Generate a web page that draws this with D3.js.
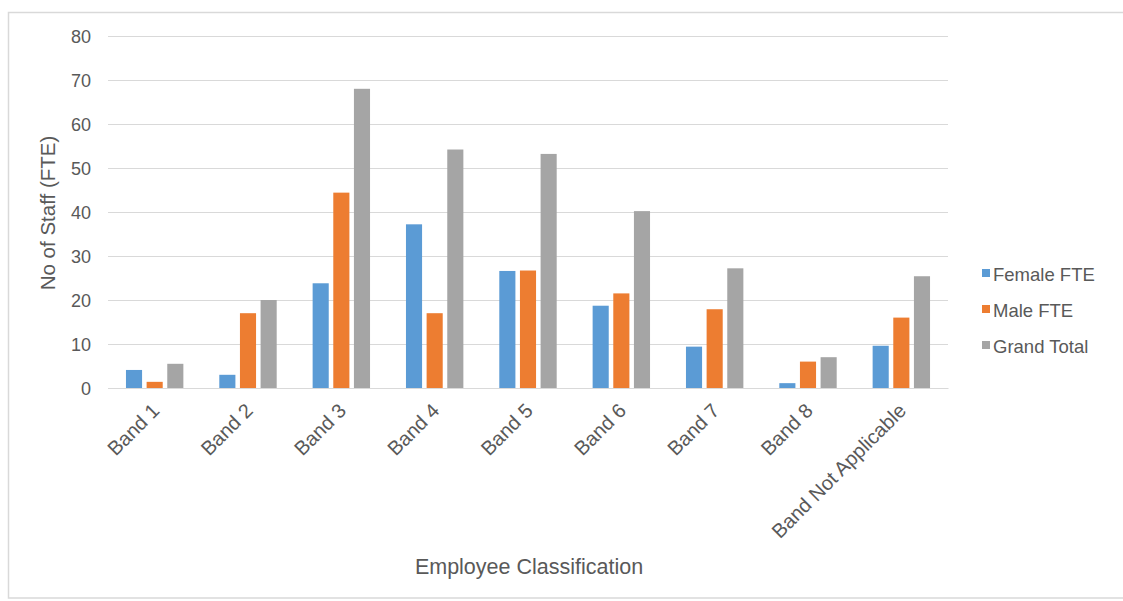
<!DOCTYPE html>
<html>
<head>
<meta charset="utf-8">
<script src="https://cdn.jsdelivr.net/npm/d3@7"></script>
<style>
  html, body { margin: 0; padding: 0; background: #fff; }
  svg { display: block; font-family: "Liberation Sans", Arial, sans-serif; }
</style>
</head>
<body>
<svg id="chart" width="1123" height="601"></svg>
<script>
// Staff numbers (FTE) by band
const categories = ["Band 1", "Band 2", "Band 3", "Band 4", "Band 5", "Band 6", "Band 7", "Band 8", "Band Not Applicable"];
const seriesNames = ["Female FTE", "Male FTE", "Grand Total"];
const femaleFTE = [4.1, 3.0, 23.8, 37.2, 26.6, 18.7, 9.4, 1.1, 9.6];
const maleFTE   = [1.4, 17.0, 44.4, 17.0, 26.7, 21.5, 17.9, 6.0, 16.0];
const grandTotal = [5.5, 20.0, 68.0, 54.2, 53.2, 40.2, 27.2, 7.0, 25.4];
const yTicks = [0, 10, 20, 30, 40, 50, 60, 70, 80];

const colors = ["#5B9BD5", "#ED7D31", "#A5A5A5"];
const seriesValues = [femaleFTE, maleFTE, grandTotal];
const textColor = "#595959";

const svg = d3.select("#chart");

// outer chart frame
svg.append("rect")
  .attr("x", 8.5).attr("y", 12.5)
  .attr("width", 1125).attr("height", 585.5)
  .attr("fill", "none").attr("stroke", "#D9D9D9").attr("stroke-width", 1.5);

const plot = { left: 108, right: 948, top: 36, bottom: 388 };

const x0 = d3.scaleBand()
  .domain(categories)
  .range([plot.left, plot.right])
  .paddingInner(0.385)
  .paddingOuter(0.1925);

const x1 = d3.scaleBand()
  .domain(seriesNames)
  .range([0, x0.bandwidth()])
  .paddingInner(0.22);

const y = d3.scaleLinear().domain([0, 80]).range([plot.bottom, plot.top]);

// horizontal gridlines
const yAxis = d3.axisLeft(y)
  .tickValues(yTicks)
  .tickSize(-(plot.right - plot.left))
  .tickPadding(17)
  .tickFormat(d3.format("d"));

const gy = svg.append("g")
  .attr("transform", `translate(${plot.left},0)`)
  .call(yAxis);
gy.select(".domain").remove();
gy.selectAll(".tick line").attr("stroke", "#D9D9D9").attr("stroke-width", 1.2);
gy.selectAll(".tick text")
  .attr("fill", textColor)
  .attr("font-size", 18)
  .attr("dy", "0.35em");

// bars
const groups = svg.append("g").selectAll("g")
  .data(categories)
  .join("g")
  .attr("transform", d => `translate(${x0(d)},0)`);

groups.selectAll("rect")
  .data((d, i) => seriesNames.map((s, k) => ({ s, k, v: seriesValues[k][i] })))
  .join("rect")
  .attr("x", d => x1(d.s))
  .attr("y", d => y(d.v))
  .attr("width", x1.bandwidth())
  .attr("height", d => y(0) - y(d.v))
  .attr("fill", d => colors[d.k]);

// category axis
const xAxis = d3.axisBottom(x0).tickSize(0).tickPadding(0);
const gx = svg.append("g")
  .attr("transform", `translate(0,${plot.bottom})`)
  .call(xAxis);
gx.select(".domain").attr("stroke", "#D9D9D9").attr("stroke-width", 1.2);
gx.selectAll(".tick text")
  .attr("fill", textColor)
  .attr("font-size", 20)
  .attr("text-anchor", "end")
  .attr("dy", null)
  .attr("y", 0)
  .attr("transform", "translate(6,24) rotate(-45)");

// axis titles
svg.append("text")
  .attr("transform", `translate(55,${(plot.top + plot.bottom) / 2 + 1}) rotate(-90)`)
  .attr("text-anchor", "middle")
  .attr("fill", textColor)
  .attr("font-size", 20.5)
  .text("No of Staff (FTE)");

svg.append("text")
  .attr("x", 529).attr("y", 574)
  .attr("text-anchor", "middle")
  .attr("fill", textColor)
  .attr("font-size", 21.5)
  .text("Employee Classification");

// legend
const legend = svg.append("g").attr("transform", "translate(982,281)");
const items = legend.selectAll("g")
  .data(seriesNames)
  .join("g")
  .attr("transform", (d, i) => `translate(0,${i * 36})`);
items.append("rect")
  .attr("x", 0).attr("y", -12)
  .attr("width", 8).attr("height", 8)
  .attr("fill", (d, i) => colors[i]);
items.append("text")
  .attr("x", 11).attr("y", 0)
  .attr("fill", textColor)
  .attr("font-size", 18.5)
  .text(d => d);
</script>
</body>
</html>
